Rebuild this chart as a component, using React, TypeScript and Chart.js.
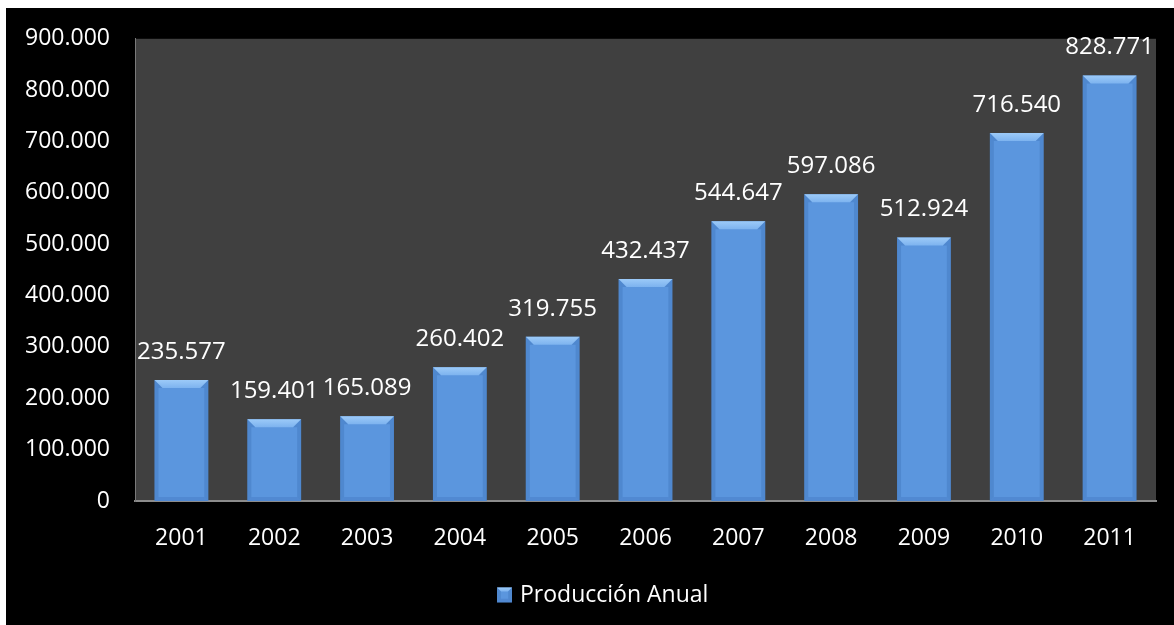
import React, { useEffect, useRef } from "react";
import { Chart, registerables } from "chart.js";

Chart.register(...registerables);

const years = ["2001", "2002", "2003", "2004", "2005", "2006", "2007", "2008", "2009", "2010", "2011"];
const production = [235577, 159401, 165089, 260402, 319755, 432437, 544647, 597086, 512924, 716540, 828771];
const seriesLabel = "Producción Anual";
const yMax = 900000;
const yStep = 100000;

const FONT = "'Open Sans', 'DejaVu Sans', sans-serif";

function fmt(v: number): string {
  const s = Math.round(v).toString();
  return s.replace(/\B(?=(\d{3})+(?!\d))/g, ".");
}

function drawBevelRect(ctx: CanvasRenderingContext2D, left: number, top: number, right: number, bottom: number, b: number) {
  const w = right - left;
  const h = bottom - top;
  const bt = Math.min(b, h / 2);
  const bs = Math.min(4, w / 4);
  const g = ctx.createLinearGradient(0, top, 0, top + bt);
  g.addColorStop(0, "#9ccaf8");
  g.addColorStop(1, "#7db3ef");
  ctx.fillStyle = g;
  ctx.beginPath();
  ctx.moveTo(left, top);
  ctx.lineTo(right, top);
  ctx.lineTo(right - bt, top + bt);
  ctx.lineTo(left + bt, top + bt);
  ctx.closePath();
  ctx.fill();
  ctx.fillStyle = "rgba(30,70,140,0.18)";
  ctx.beginPath();
  ctx.moveTo(left, top);
  ctx.lineTo(left + bt, top + bt);
  ctx.lineTo(left + bs, top + bt);
  ctx.lineTo(left + bs, bottom - bs);
  ctx.lineTo(left, bottom);
  ctx.closePath();
  ctx.fill();
  ctx.beginPath();
  ctx.moveTo(right, top);
  ctx.lineTo(right - bt, top + bt);
  ctx.lineTo(right - bs, top + bt);
  ctx.lineTo(right - bs, bottom - bs);
  ctx.lineTo(right, bottom);
  ctx.closePath();
  ctx.fill();
  ctx.fillStyle = "rgba(30,70,140,0.15)";
  ctx.beginPath();
  ctx.moveTo(left, bottom);
  ctx.lineTo(left + bs, bottom - bs);
  ctx.lineTo(right - bs, bottom - bs);
  ctx.lineTo(right, bottom);
  ctx.closePath();
  ctx.fill();
}

const bgPlugin = {
  id: "bgPlugin",
  beforeDraw(chart: any) {
    const { ctx, chartArea } = chart;
    ctx.save();
    ctx.fillStyle = "#ffffff";
    ctx.fillRect(0, 0, chart.width, chart.height);
    ctx.fillStyle = "#000000";
    ctx.fillRect(6, 8, chart.width - 6, chart.height - 8);
    ctx.fillStyle = "#404040";
    ctx.fillRect(chartArea.left, chartArea.top, chartArea.right - chartArea.left, chartArea.bottom - chartArea.top);
    ctx.restore();
  },
};

const barDecorPlugin = {
  id: "barDecor",
  afterDatasetsDraw(chart: any) {
    const { ctx } = chart;
    const meta = chart.getDatasetMeta(0);
    ctx.save();
    meta.data.forEach((bar: any, i: number) => {
      const left = bar.x - bar.width / 2;
      const right = bar.x + bar.width / 2;
      drawBevelRect(ctx, left, bar.y, right, bar.base, 8);
      ctx.fillStyle = "#ffffff";
      ctx.font = `24px ${FONT}`;
      ctx.textAlign = "center";
      ctx.textBaseline = "middle";
      ctx.fillText(fmt(production[i]), bar.x, bar.y - 28);
    });
    const boxL = 497;
    const cy = 595;
    ctx.fillStyle = "#5b96de";
    ctx.fillRect(boxL, cy - 7.5, 15, 15);
    drawBevelRect(ctx, boxL, cy - 7.5, boxL + 15, cy + 7.5, 4);
    ctx.fillStyle = "#ffffff";
    ctx.font = `23px ${FONT}`;
    ctx.textAlign = "left";
    ctx.textBaseline = "middle";
    ctx.fillText(seriesLabel, boxL + 23, cy);
    ctx.restore();
  },
};

export default function App() {
  const ref = useRef<HTMLCanvasElement | null>(null);
  useEffect(() => {
    document.body.style.margin = "0";
    const canvas = ref.current;
    if (!canvas) return;
    const chart = new Chart(canvas, {
      type: "bar",
      data: {
        labels: years,
        datasets: [
          {
            label: seriesLabel,
            data: production,
            backgroundColor: "#5b96de",
            borderWidth: 0,
            barPercentage: 0.58,
            categoryPercentage: 1,
          },
        ],
      },
      options: {
        animation: false,
        responsive: false,
        devicePixelRatio: 1,
        layout: { padding: { left: 0, top: 37, right: 18, bottom: 0 } },
        plugins: {
          legend: { display: false },
          tooltip: { enabled: false },
        },
        scales: {
          x: {
            grid: { display: false, drawTicks: false },
            border: { display: true, color: "#8c8c8c", width: 2 },
            ticks: { color: "#ffffff", font: { family: FONT, size: 23 }, padding: 24 },
            afterFit(axis: any) {
              axis.height = 124;
            },
          },
          y: {
            min: 0,
            max: yMax,
            grid: { display: false, drawTicks: false },
            border: { display: true, color: "#7a7a7a", width: 1 },
            ticks: {
              stepSize: yStep,
              color: "#ffffff",
              font: { family: FONT, size: 23 },
              padding: 25,
              callback: (v: any) => fmt(Number(v)),
            },
            afterFit(axis: any) {
              axis.width = 135;
            },
          },
        },
      },
      plugins: [bgPlugin, barDecorPlugin],
    } as any);
    return () => chart.destroy();
  }, []);
  return (
    <div style={{ width: 1174, height: 625 }}>
      <canvas ref={ref} width={1174} height={625} style={{ display: "block" }} />
    </div>
  );
}
